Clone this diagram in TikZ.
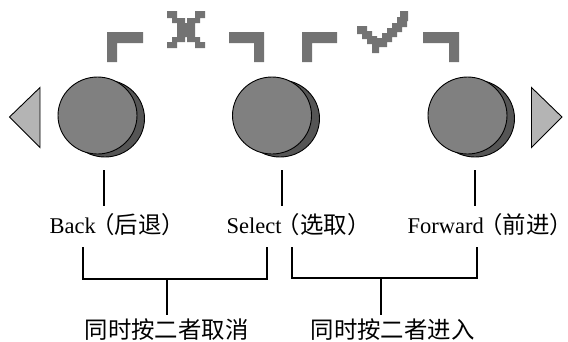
\documentclass[tikz,border=0pt]{standalone}
\usepackage{fontspec}
\setmainfont{Liberation Serif}
\newfontfamily\cjk[Scale=1.04]{Noto Sans CJK SC}
\usetikzlibrary{shapes.geometric}
\definecolor{btnfront}{HTML}{808080}
\definecolor{btnback}{HTML}{555555}
\definecolor{trifill}{HTML}{B4B4B4}
\definecolor{markgray}{HTML}{737373}
\newcommand{\lpar}{\kern-0.2em（}
\newcommand{\rpar}{）\kern-0.55em}
\tikzset{
  btnface/.style={ellipse, draw=black, line width=0.9pt, fill=btnfront, minimum width=79pt, minimum height=77pt, inner sep=0pt},
  btnshadow/.style={btnface, fill=btnback},
  arrowtri/.style={draw=black, line width=0.9pt, fill=trifill, line join=miter},
  wire/.style={draw=black, line width=1.7pt},
  lbl/.style={anchor=base west, inner sep=0pt, font=\fontsize{22.5}{26}\selectfont},
  markfill/.style={fill=markgray}
}
\begin{document}
\begin{tikzpicture}[x=1pt,y=-1pt]
\useasboundingbox (0,0) rectangle (568,341);

% triangles
\draw[arrowtri] (9.5,117) -- (40,87.5) -- (40,147.5) -- cycle;
\draw[arrowtri] (562,117) -- (531.5,87.5) -- (531.5,147.5) -- cycle;

% buttons
\node[btnshadow] (b1s) at (105,118.5) {};
\node[btnface] (b1) at (97.5,115.5) {};
\node[btnshadow] (b2s) at (280,118.5) {};
\node[btnface] (b2) at (272,115.5) {};
\node[btnshadow] (b3s) at (475,118.5) {};
\node[btnface] (b3) at (467.5,115.5) {};

% gray brackets
\fill[markfill] (107,32) rectangle (143,43) (107,32) rectangle (117,62);
\fill[markfill] (229,32) rectangle (264,43) (254,32) rectangle (264,62);
\fill[markfill] (302,32) rectangle (337,43) (302,32) rectangle (312,62);
\fill[markfill] (423,32) rectangle (459,43) (449,32) rectangle (459,62);

% pixel X
\fill[markfill] (167,11) rectangle (177,18) (195,11) rectangle (205,18)
  (172,18) rectangle (185,23) (187,18) rectangle (200,23)
  (177,23) rectangle (195,37)
  (172,37) rectangle (185,42) (187,37) rectangle (200,42)
  (167,42) rectangle (177,48) (195,42) rectangle (205,48);

% pixel check
\fill[markfill] (357,26) rectangle (367,34) (362,31) rectangle (372,39)
  (367,36) rectangle (377,44) (372,40) rectangle (379,53)
  (377,38) rectangle (387,47) (382,33) rectangle (392,42)
  (387,28) rectangle (397,37) (392,23) rectangle (402,32)
  (397,17) rectangle (407,27) (400,11) rectangle (408,21);

% labels
\node[lbl] (back) at (49.5,233) {Back{\cjk\lpar 后退\rpar}};
\node[lbl] (sel) at (226.5,233) {Select{\cjk\lpar 选取\rpar}};
\node[lbl] (fwd) at (407.5,233) {Forward{\cjk\lpar 前进\rpar}};
\node[lbl] (cancel) at (84.5,338.5) {\cjk 同时按二者取消};
\node[lbl] (enter) at (310.5,338.5) {\cjk 同时按二者进入};

% button leader lines
\coordinate (l1t) at (104,170); \coordinate (l1b) at (104,206);
\coordinate (l2t) at (282,170); \coordinate (l2b) at (282,206);
\coordinate (l3t) at (475,170); \coordinate (l3b) at (475,206);
\draw[wire] (l1t) -- (l1b);
\draw[wire] (l2t) -- (l2b);
\draw[wire] (l3t) -- (l3b);

% brackets below
\coordinate (c1a) at (83,247); \coordinate (c1b) at (267,247);
\coordinate (c1m) at (167,279); \coordinate (c1s) at (167,315);
\draw[wire, line join=miter] (c1a) |- (c1m) -| (c1b);
\draw[wire] (c1m) -- (c1s);
\coordinate (c2a) at (292,247); \coordinate (c2b) at (477,247);
\coordinate (c2m) at (381,278); \coordinate (c2s) at (381,315);
\draw[wire, line join=miter] (c2a) |- (c2m) -| (c2b);
\draw[wire] (c2m) -- (c2s);
\end{tikzpicture}
\end{document}
